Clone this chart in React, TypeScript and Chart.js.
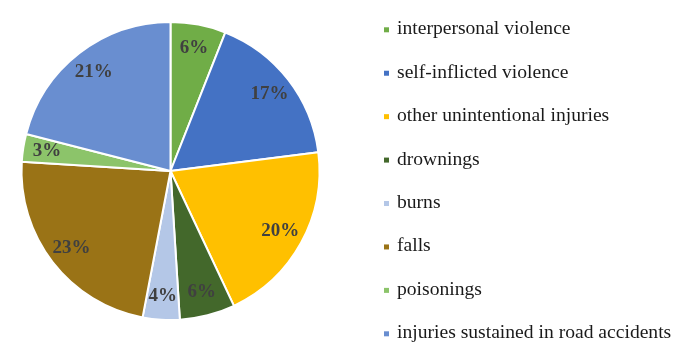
import React, { useEffect, useRef } from "react";
import { Chart, registerables } from "chart.js";

Chart.register(...registerables);

const categories = [
  "interpersonal violence",
  "self-inflicted violence",
  "other unintentional injuries",
  "drownings",
  "burns",
  "falls",
  "poisonings",
  "injuries sustained in road accidents",
];
const shares = [6, 17, 20, 6, 4, 23, 3, 21];
const colors = [
  "#70AD47",
  "#4472C4",
  "#FFC000",
  "#43682B",
  "#B4C7E7",
  "#9A7316",
  "#8CC46A",
  "#698ED0",
];

const labelPlugin = {
  id: "sliceLabels",
  afterDatasetsDraw(chart: any) {
    const ctx = chart.ctx;
    const meta = chart.getDatasetMeta(0);
    const data = chart.data.datasets[0].data as number[];
    ctx.save();
    ctx.font = "bold 19px 'Liberation Serif', serif";
    ctx.fillStyle = "#404040";
    ctx.textAlign = "center";
    ctx.textBaseline = "middle";
    meta.data.forEach((arc: any, i: number) => {
      const { x, y, startAngle, endAngle, outerRadius } = arc.getProps(
        ["x", "y", "startAngle", "endAngle", "outerRadius"],
        true
      );
      const mid = (startAngle + endAngle) / 2;
      const r = outerRadius * 0.84;
      ctx.fillText(data[i] + "%", x + Math.cos(mid) * r, y + Math.sin(mid) * r);
    });
    ctx.restore();
  },
};

const legendPlugin = {
  id: "sideLegend",
  afterDraw(chart: any) {
    const ctx = chart.ctx;
    const labels = chart.data.labels as string[];
    const bg = chart.data.datasets[0].backgroundColor as string[];
    const x0 = chart.chartArea.right + 63;
    const y0 = 34.3;
    const step = 43.43;
    ctx.save();
    ctx.font = "19.6px 'Liberation Serif', serif";
    ctx.textAlign = "left";
    ctx.textBaseline = "alphabetic";
    labels.forEach((lab, i) => {
      const base = y0 + i * step;
      ctx.fillStyle = bg[i];
      ctx.fillRect(x0, base - 7, 5, 5);
      ctx.fillStyle = "#1a1a1a";
      ctx.fillText(lab, x0 + 13, base);
    });
    ctx.restore();
  },
};

export default function App() {
  const ref = useRef<HTMLCanvasElement>(null);
  useEffect(() => {
    if (!ref.current) return;
    const chart = new Chart(ref.current, {
      type: "pie",
      data: {
        labels: categories,
        datasets: [
          {
            data: shares,
            backgroundColor: colors,
            borderColor: "#ffffff",
            borderWidth: 2,
          },
        ],
      },
      options: {
        animation: false,
        responsive: false,
        layout: { padding: { left: 20, top: 21, right: 377, bottom: 33 } },
        plugins: {
          legend: { display: false },
          tooltip: { enabled: false },
        },
      },
      plugins: [labelPlugin, legendPlugin],
    });
    return () => chart.destroy();
  }, []);
  return (
    <div style={{ position: "fixed", left: 0, top: 0, width: 698, height: 354, background: "#fff" }}>
      <canvas ref={ref} width={698} height={354} style={{ width: 698, height: 354 }} />
    </div>
  );
}
